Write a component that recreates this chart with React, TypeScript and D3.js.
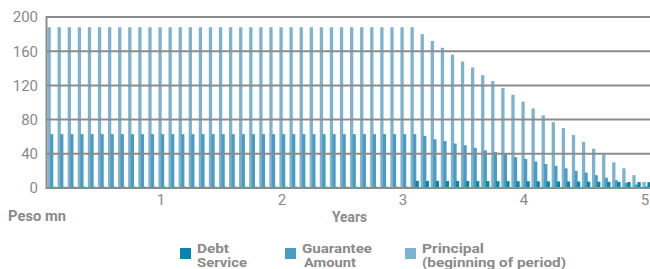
import React from 'react'
import * as d3 from 'd3'

// monthly periods over 5 years
const months = d3.range(1, 61)

const principal = [
  188, 188, 188, 188, 188, 188, 188, 188, 188, 188, 188, 188,
  188, 188, 188, 188, 188, 188, 188, 188, 188, 188, 188, 188,
  188, 188, 188, 188, 188, 188, 188, 188, 188, 188, 188, 188,
  188, 180, 172, 164, 156, 148, 141, 132, 125, 117, 109, 101,
  93, 85, 77, 70, 62, 54, 46, 39, 30, 23, 15, 7,
]

const guarantee = [
  63, 63, 63, 63, 63, 63, 63, 63, 63, 63, 63, 63,
  63, 63, 63, 63, 63, 63, 63, 63, 63, 63, 63, 63,
  63, 63, 63, 63, 63, 63, 63, 63, 63, 63, 63, 63,
  63, 61, 57, 55, 52, 50, 47, 44, 42, 40, 36, 34,
  31, 28, 26, 23, 20, 18, 15, 12, 9, 6, 4, 2,
]

const debtService = [
  1.5, 1.5, 1.5, 1.5, 1.5, 1.5, 1.5, 1.5, 1.5, 1.5, 1.5, 1.5,
  1.5, 1.5, 1.5, 1.5, 1.5, 1.5, 1.5, 1.5, 1.5, 1.5, 1.5, 1.5,
  1.5, 1.5, 1.5, 1.5, 1.5, 1.5, 1.5, 1.5, 1.5, 1.5, 1.5, 1.5,
  8.3, 8.3, 8.3, 8.2, 8.2, 8.2, 8.1, 8.1, 8.0, 8.0, 7.9, 7.9,
  7.8, 7.7, 7.7, 7.6, 7.5, 7.4, 7.3, 7.2, 7.1, 7.0, 6.9, 6.8,
]

const yTicks = [0, 40, 80, 120, 160, 200]
const yearTicks = [1, 2, 3, 4, 5]

const series = [
  { key: 'principal', values: principal, color: '#7db2d1' },
  { key: 'guarantee', values: guarantee, color: '#4a9cc3' },
  { key: 'debt', values: debtService, color: '#0685b2' },
]

const legendItems = [
  { lines: ['Debt', 'Service'], color: '#0685b2', x: 180, widths: [32, 50] },
  { lines: ['Guarantee', 'Amount'], color: '#4a9cc3', x: 285, widths: [70, 52] },
  { lines: ['Principal', '(beginning of period)'], color: '#7db2d1', x: 405, widths: [62, 144] },
]

const W = 650
const H = 269
const grey = '#8a8a8a'
const font = 'Roboto, "Liberation Sans", sans-serif'

export default function App() {
  const x = d3.scaleBand<number>().domain(months).range([45, 650]).padding(0)
  const y = d3.scaleLinear().domain([0, 200]).range([188, 17])

  // bars inside one period overlap a little
  const inner = d3.scaleBand<string>()
    .domain(series.map(s => s.key))
    .range([2.5, x.bandwidth()])
  const barW = inner.bandwidth() * 1.3

  return (
    <svg width={W} height={H} style={{ position: 'absolute', left: 0, top: 0, background: '#fff' }}>
      {series.map(s => (
        <g key={s.key}>
          {months.map((m, i) => (
            <rect
              key={m}
              x={(x(m) ?? 0) + (inner(s.key) ?? 0)}
              y={y(s.values[i])}
              width={barW}
              height={y(0) - y(s.values[i])}
              fill={s.color}
            />
          ))}
        </g>
      ))}

      {/* gridlines */}
      {yTicks.map(t => (
        <line key={t} x1={46} x2={W} y1={y(t)} y2={y(t)} stroke="#8c8c8c" strokeWidth={2} />
      ))}
      <line x1={46.5} x2={46.5} y1={y(200) - 1} y2={y(0) + 1} stroke="#8c8c8c" strokeWidth={2} />

      {/* y labels */}
      {yTicks.map(t => (
        <text key={t} x={38} y={y(t)} dy="0.36em" textAnchor="end"
          fontFamily={font} fontSize={15} fill={grey}>{t}</text>
      ))}

      {/* year labels */}
      {yearTicks.map(t => (
        <text key={t} x={(x(t * 12) ?? 0) + x.bandwidth() / 2} y={205}
          textAnchor="middle" fontFamily={font} fontSize={15} fill={grey}>{t}</text>
      ))}

      <text x={8} y={221} fontFamily={font} fontSize={14} fontWeight="bold" fill={grey}
        textLength={58} lengthAdjust="spacingAndGlyphs">Peso mn</text>
      <text x={332} y={222} fontFamily={font} fontSize={14} fontWeight="bold" fill={grey}
        textLength={35} lengthAdjust="spacingAndGlyphs">Years</text>

      {/* legend */}
      {legendItems.map(item => (
        <g key={item.lines[0]}>
          <rect x={item.x} y={248} width={11} height={11} fill={item.color} />
          {item.lines.map((ln, j) => (
            <text key={ln} x={item.x + 17 + (j === 1 && item.lines[0] === 'Guarantee' ? 2 : 0)}
              y={253 + j * 14} fontFamily={font} fontSize={12} fontWeight="bold" fill={grey}
              textLength={item.widths[j]} lengthAdjust="spacingAndGlyphs">{ln}</text>
          ))}
        </g>
      ))}
    </svg>
  )
}
